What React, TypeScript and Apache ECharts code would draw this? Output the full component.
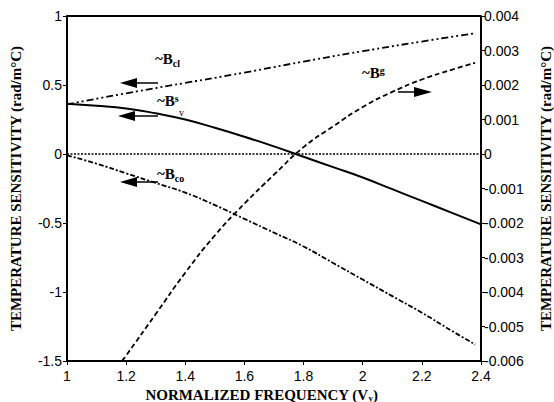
import React, { useEffect, useRef } from "react";
import * as echarts from "echarts";

// Left-axis series (rad/m°C)
const clX = [1.0, 1.2, 1.4, 1.6, 1.8, 2.0, 2.2, 2.38];
const clY = [0.36, 0.44, 0.515, 0.59, 0.67, 0.745, 0.815, 0.875];

const sX = [1.0, 1.1, 1.2, 1.3, 1.4, 1.5, 1.6, 1.7, 1.8, 1.9, 2.0, 2.1, 2.2, 2.3, 2.4];
const sY = [0.365, 0.35, 0.33, 0.295, 0.25, 0.19, 0.125, 0.055, -0.02, -0.095, -0.17, -0.255, -0.34, -0.425, -0.51];

const coX = [1.0, 1.1, 1.2, 1.3, 1.4, 1.5, 1.6, 1.7, 1.8, 1.9, 2.0, 2.1, 2.2, 2.3, 2.38];
const coY = [-0.01, -0.07, -0.14, -0.21, -0.28, -0.37, -0.47, -0.57, -0.67, -0.79, -0.91, -1.03, -1.15, -1.28, -1.38];

const zeroX = [1.0, 2.4];
const zeroY = [0, 0];

// Right-axis series (rad/m°C)
const gX = [1.186, 1.2, 1.3, 1.4, 1.5, 1.6, 1.7, 1.8, 1.9, 2.0, 2.1, 2.2, 2.3, 2.38];
const gY = [-0.006, -0.00584, -0.00464, -0.00344, -0.00236, -0.00144, -0.0006, 0.0002, 0.0008, 0.00136, 0.0018, 0.00216, 0.00244, 0.00264];

const xTicks = { min: 1, max: 2.4, interval: 0.2 };
const yLeftTicks = { min: -1.5, max: 1, interval: 0.5 };
const yRightTicks = { min: -0.006, max: 0.004, interval: 0.001 };

const pair = (xs: number[], ys: number[]) => xs.map((x, i) => [x, ys[i]]);

const SERIF = "'Liberation Serif', 'Times New Roman', serif";
const SANS = "'Liberation Sans', Arial, sans-serif";

function leftArrow(x: number, y: number, len: number) {
  return [
    {
      type: "polygon",
      shape: { points: [[x, y], [x + 17, y - 5], [x + 17, y + 5]] },
      style: { fill: "#000" },
    },
    {
      type: "line",
      shape: { x1: x + 15, y1: y, x2: x + len, y2: y },
      style: { stroke: "#000", lineWidth: 1.5 },
    },
  ];
}

export default function App() {
  const ref = useRef<HTMLDivElement>(null);
  useEffect(() => {
    if (!ref.current) return;
    const chart = echarts.init(ref.current, undefined, { renderer: "svg" });
    const labelRich = {
      b: { fontFamily: SERIF, fontWeight: "bold", fontSize: 15, color: "#000" },
      sub: { fontFamily: SERIF, fontWeight: "bold", fontSize: 10, color: "#000", verticalAlign: "bottom", padding: [8, 0, 0, 0] },
      sup: { fontFamily: SERIF, fontWeight: "bold", fontSize: 10, color: "#000", verticalAlign: "top", padding: [0, 0, 6, 0] },
    };
    chart.setOption({
      animation: false,
      backgroundColor: "#fff",
      grid: { left: 67, right: 73, top: 16, bottom: 41, show: false, containLabel: false, outerBoundsMode: "none" },
      xAxis: {
        type: "value",
        min: xTicks.min,
        max: xTicks.max,
        interval: xTicks.interval,
        name: "NORMALIZED FREQUENCY (V{sub|y})",
        nameLocation: "middle",
        nameGap: 21,
        nameTextStyle: {
          fontFamily: SERIF,
          fontWeight: "bold",
          fontSize: 15,
          color: "#000",
          padding: [0, 25, 0, 0],
          rich: {
            sub: { fontFamily: SERIF, fontWeight: "bold", fontSize: 9, color: "#000", padding: [6, 0, 0, 0] },
          },
        },
        axisLine: { show: true, onZero: false, lineStyle: { color: "#000", width: 2 } },
        axisTick: { show: true, length: 4, lineStyle: { color: "#000" } },
        axisLabel: {
          fontFamily: SANS,
          fontSize: 14,
          color: "#000",
          margin: 8,
          formatter: (v: number) => String(+v.toFixed(1)),
        },
        splitLine: { show: false },
      },
      yAxis: [
        {
          type: "value",
          position: "left",
          min: yLeftTicks.min,
          max: yLeftTicks.max,
          interval: yLeftTicks.interval,
          name: "TEMPERATURE SENSITIVITY (rad/m°C)",
          nameLocation: "middle",
          nameGap: 44,
          nameTextStyle: { fontFamily: SERIF, fontWeight: "bold", fontSize: 15, color: "#000" },
          axisLine: { show: true, onZero: false, lineStyle: { color: "#000", width: 2 } },
          axisTick: { show: true, length: 4, lineStyle: { color: "#000" } },
          axisLabel: {
            fontFamily: SANS,
            fontSize: 14,
            color: "#000",
            margin: 5,
            formatter: (v: number) => String(+v.toFixed(1)),
          },
          splitLine: { show: false },
        },
        {
          type: "value",
          position: "right",
          min: yRightTicks.min,
          max: yRightTicks.max,
          interval: yRightTicks.interval,
          name: "TEMPERATURE SENSITIVITY (rad/m°C)",
          nameLocation: "middle",
          nameGap: 57,
          nameRotate: 90,
          nameTextStyle: { fontFamily: SERIF, fontWeight: "bold", fontSize: 15, color: "#000" },
          axisLine: { show: true, onZero: false, lineStyle: { color: "#000", width: 2 } },
          axisTick: { show: true, length: 4, lineStyle: { color: "#000" } },
          axisLabel: {
            fontFamily: SANS,
            fontSize: 14,
            color: "#000",
            margin: 3,
            formatter: (v: number) => String(+v.toFixed(3)),
          },
          splitLine: { show: false },
        },
      ],
      series: [
        {
          name: "zero",
          type: "line",
          yAxisIndex: 0,
          data: pair(zeroX, zeroY),
          showSymbol: false,
          lineStyle: { color: "#000", width: 1.5, type: [2, 1.5] },
        },
        {
          name: "Bcl",
          type: "line",
          yAxisIndex: 0,
          data: pair(clX, clY),
          showSymbol: false,
          smooth: true,
          lineStyle: { color: "#000", width: 1.8, type: [7, 3, 2, 3, 2, 3] },
        },
        {
          name: "Bs",
          type: "line",
          yAxisIndex: 0,
          data: pair(sX, sY),
          showSymbol: false,
          smooth: true,
          lineStyle: { color: "#000", width: 2 },
        },
        {
          name: "Bco",
          type: "line",
          yAxisIndex: 0,
          data: pair(coX, coY),
          showSymbol: false,
          smooth: true,
          lineStyle: { color: "#000", width: 1.8, type: [5, 2, 2, 2] },
        },
        {
          name: "Bg",
          type: "line",
          yAxisIndex: 1,
          data: pair(gX, gY),
          showSymbol: false,
          smooth: true,
          lineStyle: { color: "#000", width: 1.8, type: [5, 3] },
        },
      ],
      graphic: [
        // top frame line
        {
          type: "line",
          shape: { x1: 67, y1: 16, x2: 481, y2: 16 },
          style: { stroke: "#000", lineWidth: 2 },
        },
        {
          type: "text",
          x: 155,
          y: 59,
          style: { text: "~B{sub|cl}", rich: labelRich, font: `bold 15px ${SERIF}`, fill: "#000", verticalAlign: "middle" },
        },
        {
          type: "text",
          x: 157,
          y: 101,
          style: { text: "~B{sup|s}", rich: labelRich, font: `bold 15px ${SERIF}`, fill: "#000", verticalAlign: "middle" },
        },
        {
          type: "text",
          x: 179,
          y: 112,
          style: { text: "v", font: `10px ${SERIF}`, fill: "#000", verticalAlign: "middle" },
        },
        {
          type: "text",
          x: 157,
          y: 174,
          style: { text: "~B{sub|co}", rich: labelRich, font: `bold 15px ${SERIF}`, fill: "#000", verticalAlign: "middle" },
        },
        {
          type: "text",
          x: 362,
          y: 73,
          style: { text: "~B{sup|g}", rich: labelRich, font: `bold 15px ${SERIF}`, fill: "#000", verticalAlign: "middle" },
        },
        ...leftArrow(120, 83, 38),
        ...leftArrow(118, 116, 40),
        ...leftArrow(120, 182, 38),
        {
          type: "line",
          shape: { x1: 398, y1: 92, x2: 418, y2: 92 },
          style: { stroke: "#000", lineWidth: 1.5 },
        },
        {
          type: "polygon",
          shape: { points: [[432, 92], [414, 87], [414, 97]] },
          style: { fill: "#000" },
        },
      ],
    });
    return () => chart.dispose();
  }, []);
  return <div ref={ref} style={{ width: 554, height: 402, position: "absolute", left: 0, top: 0 }} />;
}
